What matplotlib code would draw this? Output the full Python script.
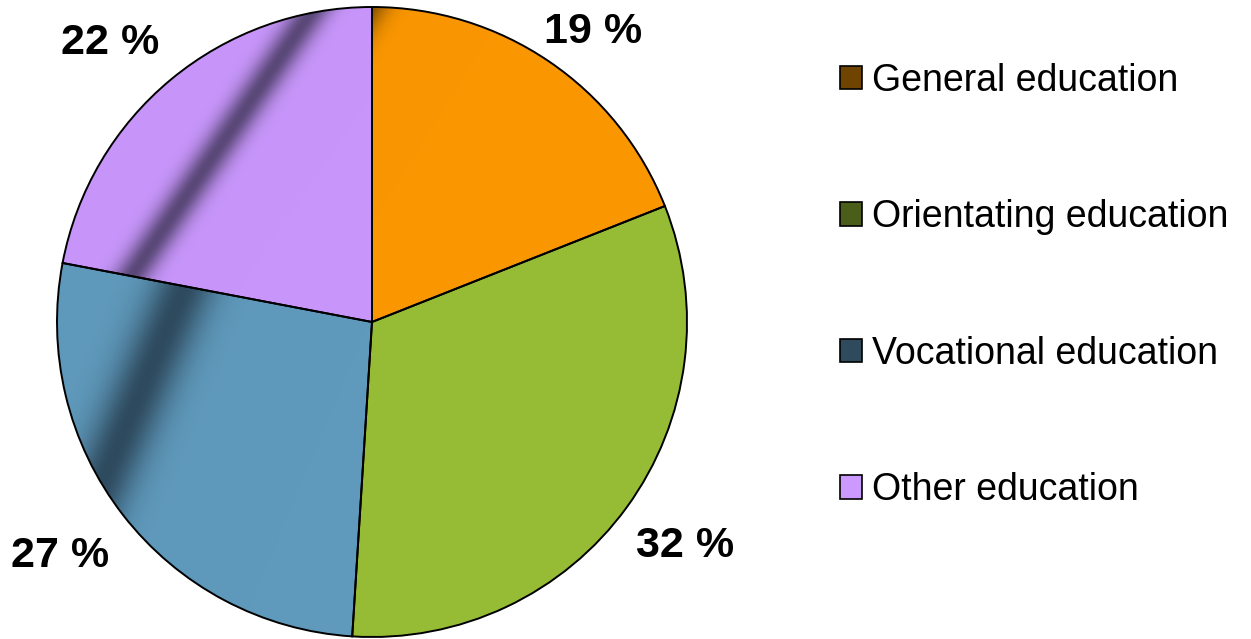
import numpy as np
import matplotlib.pyplot as plt
from matplotlib.colors import to_rgb
from matplotlib.patches import Patch

plt.rcParams['font.family'] = ['Liberation Sans', 'DejaVu Sans']

categories = ['General education', 'Orientating education', 'Vocational education', 'Other education']
shares = [19, 32, 27, 22]
slice_colors = ['#fa9600', '#96bb35', '#5f99bb', '#c896fb']
shade_colors = ['#6e4400', '#96bb35', '#2e4a5e', '#5a4878']
legend_colors = ['#6e4400', '#4a5e1a', '#2f4a5c', '#cc99ff']

# dark gradient band per slice: point, direction (pixels, y down), width
bands = [((368, 0), (-1, 1.6), 20), None, ((174, 312), (-63, 150), 30), ((290, 43), (-143, 210), 16)]
# label centres (pixels, y down)
label_pos = [(593, 32), (685, 546), (60, 556), (110, 43)]

W, H = 1251, 639
fig = plt.figure(figsize=(W / 100, H / 100), dpi=100)
ax = fig.add_axes([0, 0, 1, 1])

cx, cy, r = 372, H - 322, 315
wedges, texts, autotexts = ax.pie(
    shares, colors=slice_colors, startangle=90, counterclock=False,
    center=(cx, cy), radius=r, autopct=lambda p: f'{p:.0f} %', pctdistance=1.21,
    textprops=dict(fontsize=31, fontweight='bold', color='black'),
    wedgeprops=dict(edgecolor='black', linewidth=1.4))

for t, (lx, ly) in zip(autotexts, label_pos):
    t.set_position((lx, H - ly))

# gradient fills, clipped to the wedges
yy, xx = np.mgrid[0:H, 0:W] + 0.5
for w, base, dark, band in zip(wedges, slice_colors, shade_colors, bands):
    base = np.array(to_rgb(base))
    dark = np.array(to_rgb(dark))
    if band is None:
        wt = np.zeros((H, W))
    else:
        (px, py), (dx, dy), s = band
        n = np.hypot(dx, dy)
        dist = np.abs((xx - px) * dy / n - (yy - py) * dx / n)
        wt = np.exp(-(dist / s) ** 2)
    img = base * (1 - wt[..., None]) + dark * wt[..., None]
    im = ax.imshow(img, extent=(0, W, 0, H), origin='upper', zorder=0.5, interpolation='bilinear')
    im.set_clip_path(w)
    w.set_facecolor('none')

ax.set_xlim(0, W)
ax.set_ylim(0, H)
ax.set_aspect('equal')
ax.axis('off')

handles = [Patch(facecolor=c, edgecolor='black', linewidth=1.2) for c in legend_colors]
fig.legend(handles, categories, loc='upper left', bbox_to_anchor=(0.6715, 0.902),
           frameon=False, fontsize=27, handlelength=0.58, handleheight=0.58,
           handletextpad=0.28, labelspacing=2.68, borderaxespad=0, borderpad=0)

fig.savefig('out.png', dpi=100, facecolor='white')
